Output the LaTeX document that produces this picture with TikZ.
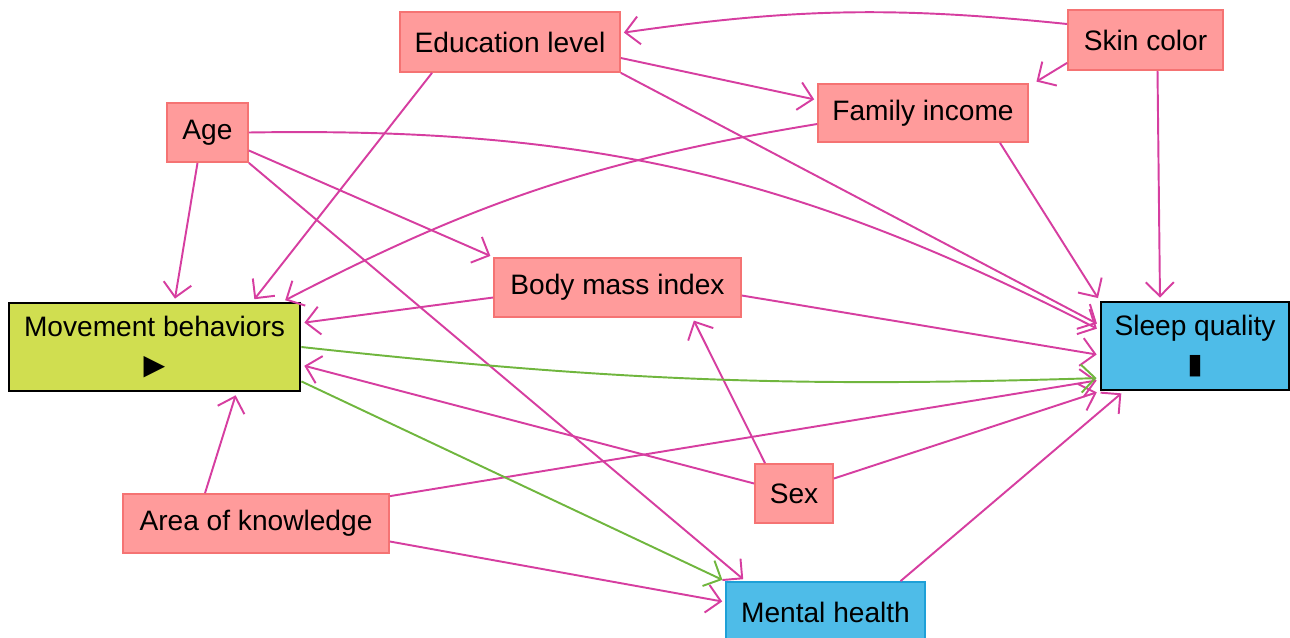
\documentclass[tikz,border=0pt]{standalone}
\usepackage{fontspec}
\setmainfont{Liberation Sans}
\newfontfamily\symfont{DejaVu Sans}
\usetikzlibrary{arrows.meta}

\definecolor{varred}{RGB}{255, 155, 155}
\definecolor{varredline}{RGB}{245, 115, 115}
\definecolor{movegreen}{RGB}{208, 222, 80}
\definecolor{outblue}{RGB}{78, 188, 232}
\definecolor{outblueline}{RGB}{30, 160, 215}
\definecolor{linkpink}{RGB}{214, 62, 160}
\definecolor{linkgreen}{RGB}{112, 182, 62}

\begin{document}
\begin{tikzpicture}[x=0.1mm, y=-0.1mm, font=\fontsize{8}{10}\selectfont,
        covar/.style={rectangle, draw=varredline, line width=0.5pt, fill=varred, inner sep=0pt, align=center},
        expo/.style={rectangle, draw=black, line width=0.8pt, fill=movegreen, inner sep=0pt, align=center},
        outc/.style={rectangle, draw=black, line width=0.8pt, fill=outblue, inner sep=0pt, align=center},
        link/.style={draw=linkpink, line width=0.55pt, shorten >=0.3mm, -{Straight Barb[length=1.4mm, width=2.8mm]}},
        causal/.style={link, draw=linkgreen}]
    \useasboundingbox (0,0) rectangle (1290,637);

    \node [covar, minimum width=22mm, minimum height=6mm] (edu) at (510,42) {Education level};
    \node [covar, minimum width=15.5mm, minimum height=6mm] (skin) at (1145.5,40) {Skin color};
    \node [covar, minimum width=21mm, minimum height=5.8mm] (income) at (923,113) {Family income};
    \node [covar, minimum width=8.1mm, minimum height=5.9mm] (age) at (207.5,132.5) {Age};
    \node [covar, minimum width=24.7mm, minimum height=5.9mm] (bmi) at (617.5,287.5) {Body mass index};
    \node [expo, minimum width=29.1mm, minimum height=8.8mm] (move) at (154.5,347) {Movement behaviors\\[0.2mm]{\symfont ▶}};
    \node [outc, minimum width=18.8mm, minimum height=8.8mm] (sleep) at (1195,346) {Sleep quality\\[0.2mm]{\symfont ▮}};
    \node [covar, minimum width=7.8mm, minimum height=5.9mm] (sex) at (794,493.5) {Sex};
    \node [covar, minimum width=26.6mm, minimum height=5.9mm] (area) at (256,523.5) {Area of knowledge};
    \node [outc, draw=outblueline, line width=0.5pt, minimum width=19.9mm, minimum height=6mm] (mental) at (825.5,612) {Mental health};

    % confounders
    \draw [link] ([yshift=1.6mm]skin.west) to[bend right=7] ([yshift=0.9mm]edu.east);
    \draw [link] ([yshift=0.8mm]skin.south west) -- ([xshift=0.5mm]income.north east);
    \draw [link] ([xshift=1.2mm]skin.south) -- ([xshift=-3.5mm]sleep.north);
    \draw [link] ([yshift=-1.6mm]edu.east) -- ([yshift=1.3mm]income.west);
    \draw [link] (edu.south east) -- ([yshift=2.1mm]sleep.west);
    \draw [link] ([xshift=-7.8mm]edu.south) -- ([xshift=9.8mm]move.north);
    \draw [link] ([yshift=-1.1mm]income.west) to[bend right=9] ([xshift=12.8mm]move.north);
    \draw [link] ([xshift=7.7mm]income.south) -- (sleep.north west);
    \draw [link] ([xshift=-1mm]age.south) -- ([xshift=2mm]move.north);
    \draw [link] ([yshift=-1.8mm]age.east) -- (bmi.north west);
    \draw [link] (age.east) to[bend left=14] ([yshift=1.6mm]sleep.west);
    \draw [link] (age.south east) -- ([xshift=-8mm]mental.north);
    \draw [link] ([yshift=-1mm]bmi.west) -- ([yshift=2.4mm]move.east);
    \draw [link] ([yshift=-0.8mm]bmi.east) -- ([yshift=-0.9mm]sleep.west);
    \draw [link] ([xshift=-2.9mm]sex.north) -- ([xshift=7.5mm]bmi.south);
    \draw [link] ([yshift=1mm]sex.west) -- ([yshift=-1.8mm]move.east);
    \draw [link] ([yshift=1.5mm]sex.east) -- (sleep.south west);
    \draw [link] ([xshift=-5.1mm]area.north) -- ([xshift=8.2mm]move.south);
    \draw [link] ([yshift=-0.3mm]area.north east) -- ([yshift=-3.4mm]sleep.west);
    \draw [link] ([yshift=-1.8mm]area.east) -- ([yshift=1mm]mental.west);
    \draw [link] ([xshift=7.5mm]mental.north) -- ([xshift=2.4mm]sleep.south west);

    % exposure -> outcomes
    \draw [causal] (move.east) to[bend right=4] ([yshift=-3.2mm]sleep.west);
    \draw [causal] ([yshift=1.1mm]move.south east) -- (mental.north west);
\end{tikzpicture}
\end{document}
